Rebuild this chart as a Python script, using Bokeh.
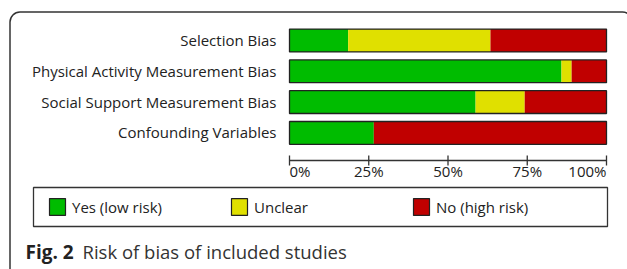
from bokeh.plotting import figure
from bokeh.models import Range1d, ColumnDataSource, Legend, LegendItem
from bokeh.core.properties import value
from bokeh.embed import file_html
from bokeh.resources import INLINE

# ---- data ----
categories = ["Selection Bias", "Physical Activity Measurement Bias",
              "Social Support Measurement Bias", "Confounding Variables"]
yes_low = [18.5, 85.8, 58.7, 26.6]
unclear = [44.9, 3.2, 15.5, 0.0]
no_high = [36.6, 11.0, 25.8, 73.4]
series_names = ["Yes (low risk)", "Unclear", "No (high risk)"]
series_colors = ["#00BC00", "#E0E000", "#C00000"]
tick_values = [0, 25, 50, 75, 100]
tick_labels = ["0%", "25%", "50%", "75%", "100%"]
caption_bold = "Fig. 2"
caption_text = "Risk of bias of included studies"

# ---- layout constants (canvas pixels) ----
W, H = 627, 269
BAR_LEFT, BAR_WIDTH = 289, 317
ROW0, PITCH = 40, 30.8
FONT = "Open Sans"
INK = "#222222"

p = figure(width=W, height=H, output_backend="svg", toolbar_location=None,
           x_range=Range1d(-BAR_LEFT / BAR_WIDTH * 100, (W - BAR_LEFT) / BAR_WIDTH * 100),
           y_range=Range1d((H - ROW0) / PITCH, -ROW0 / PITCH),
           x_axis_location=None, y_axis_location=None,
           min_border=0, outline_line_color=None, background_fill_color="white",
           border_fill_color="white")
p.grid.visible = False
p.extra_x_ranges = {"px": Range1d(0, W)}
p.extra_y_ranges = {"px": Range1d(H, 0)}

rows = list(range(len(categories)))
totals = [a + b + c for a, b, c in zip(yes_low, unclear, no_high)]
src = ColumnDataSource(dict(y=rows, cat=categories, yes=yes_low, unc=unclear,
                            no=no_high, total=totals))

# outer rounded frame
p.quad(left=[9.5], right=[W + 5], top=[11.5], bottom=[H + 30], border_radius=10,
       x_range_name="px", y_range_name="px", fill_color=None,
       line_color="#333333", line_width=1.5)

# stacked bars
p.hbar_stack(["yes", "unc", "no"], y="y", height=0.74, source=src,
             fill_color=series_colors, line_color=None)
p.hbar(y="y", left=0, right="total", height=0.74, source=src,
       fill_color=None, line_color=INK, line_width=1.3)

# category labels
p.text(x=[BAR_LEFT - 13] * len(categories), y=rows, text=categories,
       x_range_name="px", y_offset=-0.5, text_align="right",
       text_baseline="alphabetic", text_font=value(FONT),
       text_font_size="15px", text_color=INK)

# x axis
p.segment(x0=[min(tick_values)], x1=[max(tick_values)], y0=[160], y1=[160],
          y_range_name="px", line_color="#333333", line_width=1.3)
p.segment(x0=tick_values, x1=tick_values, y0=[155] * len(tick_values),
          y1=[165] * len(tick_values), y_range_name="px",
          line_color="#333333", line_width=1.3)
aligns = ["left"] + ["center"] * (len(tick_values) - 2) + ["right"]
tsrc = ColumnDataSource(dict(x=tick_values, y=[170] * len(tick_values),
                             t=tick_labels, a=aligns))
p.text(x="x", y="y", text="t", text_align="a", source=tsrc, y_range_name="px",
       text_baseline="alphabetic", text_font=value(FONT),
       text_font_size="15px", text_color=INK)

# legend box
p.quad(left=[33], right=[607], top=[187], bottom=[226], x_range_name="px",
       y_range_name="px", fill_color=None, line_color="#333333", line_width=1.3)

# legend swatch renderers (hidden, used only for bordered legend glyphs)
dummies = []
for c in series_colors:
    r = p.hbar(y="y", right="total", height=0.74, source=src,
               fill_color=c, line_color=INK, line_width=1.2, visible=False)
    dummies.append(r)

legend = Legend(items=[LegendItem(label=n, renderers=[r]) for n, r in zip(series_names, dummies)],
                orientation="horizontal", location=(47, 52), padding=0, margin=0,
                spacing=0, glyph_width=20, glyph_height=21, label_height=21,
                label_width=157, label_standoff=5, border_line_color=None,
                background_fill_alpha=0, label_text_font=FONT,
                label_text_font_size="15px", label_text_color=INK)
p.add_layout(legend)

# caption
p.text(x=[25], y=[251], text=[caption_bold], x_range_name="px", y_range_name="px",
       text_font=value(FONT), text_font_style="bold", text_font_size="19px",
       text_color=INK, text_baseline="alphabetic")
p.text(x=[82], y=[251], text=[caption_text], x_range_name="px", y_range_name="px",
       text_font=value(FONT), text_font_size="18.5px", text_color="#333333",
       text_baseline="alphabetic")

open("out.html", "w").write(file_html(p, INLINE))
